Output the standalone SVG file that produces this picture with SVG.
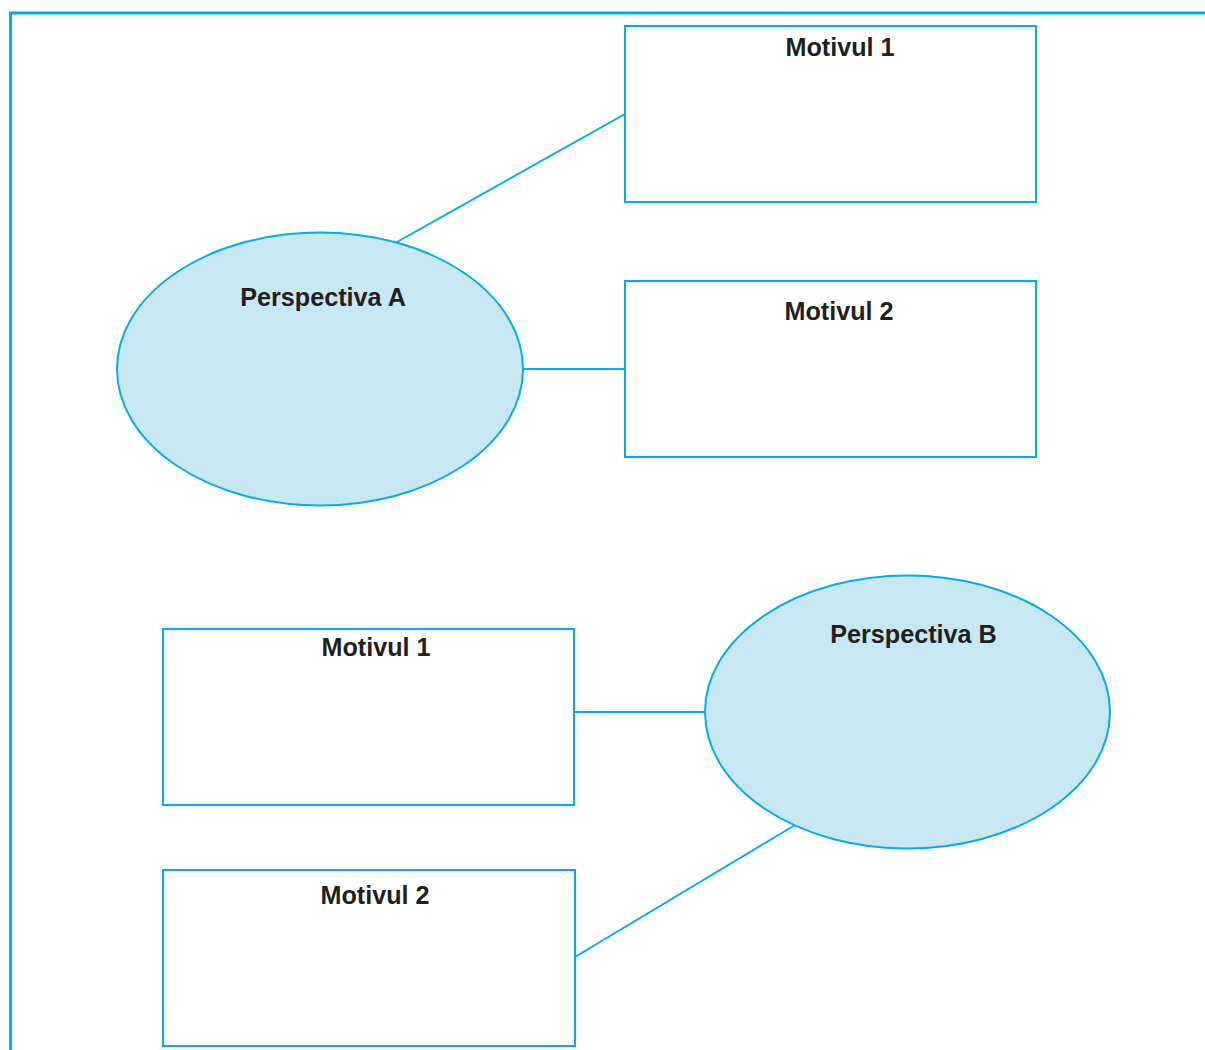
<svg xmlns="http://www.w3.org/2000/svg" width="1205" height="1050" viewBox="0 0 1205 1050">
<style>
.box{fill:#ffffff;stroke:#00aeef;stroke-width:2}
.ell{fill:#c7e8f2;stroke:#00aeef;stroke-width:2}
.con{stroke:#00aeef;stroke-width:2;fill:none}
.lbl{font-family:"Liberation Sans",Arial,sans-serif;font-weight:bold;font-size:25.2px;fill:#231f20;text-anchor:middle}
</style>
<rect width="1205" height="1050" fill="#ffffff"/>
<g id="frame">
<polyline points="10.5,1050 10.5,13 1205,13" fill="none" stroke="#00aeef" stroke-width="3"/>
</g>
<g id="connectors">
<line class="con" x1="397" y1="242" x2="625" y2="114"/>
<line class="con" x1="523" y1="369" x2="625" y2="369"/>
<line class="con" x1="575" y1="712" x2="705" y2="712"/>
<line class="con" x1="575" y1="957" x2="795" y2="825"/>
</g>
<g id="motivA1">
<rect class="box" x="625" y="26" width="411" height="176"/>
<text class="lbl" x="840" y="56">Motivul 1</text>
</g>
<g id="motivA2">
<rect class="box" x="625" y="281" width="411" height="176"/>
<text class="lbl" x="839" y="320">Motivul 2</text>
</g>
<g id="perspectivaA">
<ellipse class="ell" cx="320" cy="369" rx="203" ry="136.5"/>
<text class="lbl" x="323" y="306">Perspectiva A</text>
</g>
<g id="motivB1">
<rect class="box" x="163" y="629" width="411" height="176"/>
<text class="lbl" x="376" y="656">Motivul 1</text>
</g>
<g id="motivB2">
<rect class="box" x="163" y="870" width="412" height="176"/>
<text class="lbl" x="375" y="904">Motivul 2</text>
</g>
<g id="perspectivaB">
<ellipse class="ell" cx="907.5" cy="712" rx="202.5" ry="136.5"/>
<text class="lbl" x="913.5" y="643">Perspectiva B</text>
</g>
</svg>
